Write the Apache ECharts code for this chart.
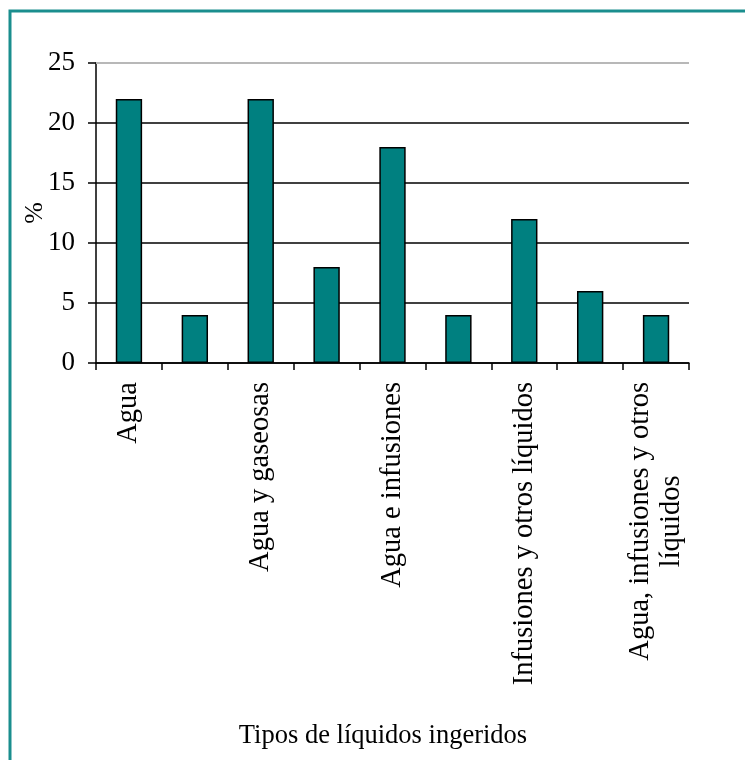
<!DOCTYPE html>
<html>
<head>
<meta charset="utf-8">
<style>
  html, body { margin: 0; padding: 0; background: #fff; }
  #chart { width: 745px; height: 760px; }
</style>
<script src="https://cdn.jsdelivr.net/npm/echarts@6/dist/echarts.min.js"></script>
</head>
<body>
<div id="chart"></div>
<script>
// Liquid intake categories (every second label is shown on the axis)
const categories = [
  'Agua',
  'Gaseosas',
  'Agua y gaseosas',
  'Infusiones',
  'Agua e infusiones',
  'Otros líquidos',
  'Infusiones y otros líquidos',
  'Gaseosas e infusiones',
  'Agua, infusiones y otros\nlíquidos'
];
// Share of respondents, in percent
const percentValues = [22, 4, 22, 8, 18, 4, 12, 6, 4];
// Value axis ticks
const yTicks = [0, 5, 10, 15, 20, 25];

const serif = "'Liberation Serif', 'Times New Roman', serif";
const teal = '#008080';

const chart = echarts.init(document.getElementById('chart'), null, { renderer: 'canvas' });

chart.setOption({
  backgroundColor: '#ffffff',
  animation: false,
  title: {
    text: 'Tipos de líquidos ingeridos',
    left: 378,
    top: 718,
    textAlign: 'center',
    textStyle: { fontFamily: serif, fontSize: 26.5, fontWeight: 'normal', color: '#000' }
  },
  graphic: [{
    type: 'rect',
    shape: { x: 10, y: 11, width: 900, height: 900 },
    style: { fill: 'none', stroke: '#1a8e8e', lineWidth: 3 },
    silent: true,
    z: 100
  }],
  grid: { left: 96, right: 56, top: 63, bottom: 397, containLabel: false },
  xAxis: {
    type: 'category',
    data: categories,
    axisLine: { show: true, lineStyle: { color: '#000', width: 1.5 } },
    axisTick: { show: true, interval: 0, length: 7, alignWithLabel: false, lineStyle: { color: '#000', width: 1.5 } },
    axisLabel: {
      interval: 1,
      rotate: 90,
      margin: 19,
      formatter: v => v.split('\n').map(s => '{c|' + s + '}').join('\n'),
      rich: {
        c: { fontFamily: serif, fontSize: 28.5, color: '#000', align: 'center', lineHeight: 31 }
      }
    },
    splitLine: { show: false }
  },
  yAxis: {
    type: 'value',
    min: yTicks[0],
    max: yTicks[yTicks.length - 1],
    interval: yTicks[1] - yTicks[0],
    name: '%',
    nameLocation: 'middle',
    nameRotate: 90,
    nameGap: 48,
    nameMoveOverlap: false,
    nameTextStyle: { fontFamily: serif, fontSize: 26, color: '#000' },
    axisLine: { show: true, lineStyle: { color: '#000', width: 1.5 } },
    axisTick: { show: true, length: 8, lineStyle: { color: '#000', width: 1.5 } },
    axisLabel: { fontFamily: serif, fontSize: 27, color: '#000', margin: 21 },
    splitLine: { show: true, showMaxLine: false, lineStyle: { color: '#000', width: 1.5 } }
  },
  series: [{
    type: 'bar',
    data: percentValues,
    barWidth: '40%',
    itemStyle: { color: teal, borderColor: '#000', borderWidth: 1.5 },
    markLine: {
      silent: true,
      symbol: 'none',
      label: { show: false },
      lineStyle: { color: '#b8b8b8', width: 2, type: 'solid' },
      data: [{ yAxis: yTicks[yTicks.length - 1] }]
    }
  }]
});
</script>
</body>
</html>
